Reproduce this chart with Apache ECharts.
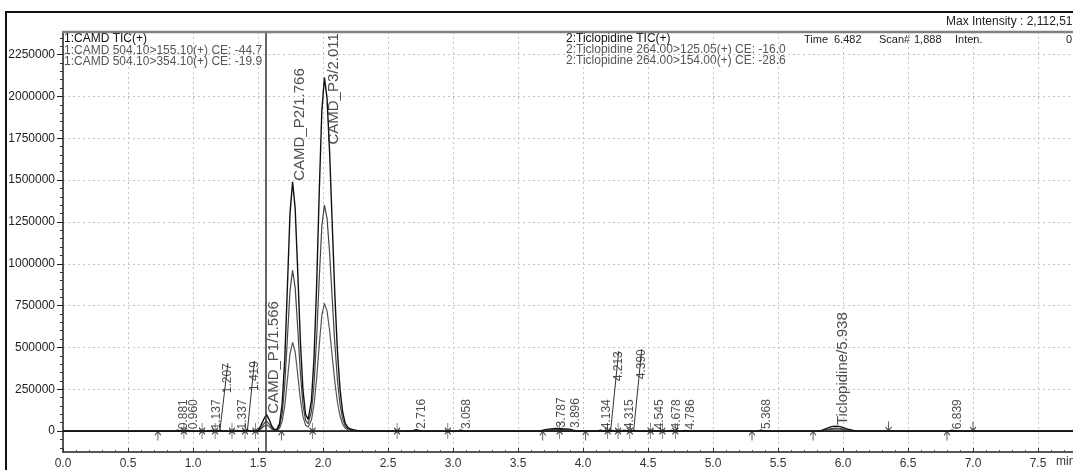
<!DOCTYPE html>
<html>
<head>
<meta charset="utf-8">
<script src="https://cdn.jsdelivr.net/npm/echarts@6/dist/echarts.min.js"></script>
<style>
  html, body { margin: 0; padding: 0; background: #fff; }
  #chart { width: 1073px; height: 470px; }
</style>
</head>
<body>
<div id="chart"></div>
<script>
// ---- CAMD channel traces (time in min, intensity in counts) ----
const camdTime = [0, 0.86, 0.881, 0.91, 0.94, 0.960, 0.98, 1.12, 1.137, 1.16, 1.19, 1.207, 1.23, 1.32, 1.337, 1.36, 1.40, 1.419, 1.44, 1.50,
  1.52, 1.546, 1.566, 1.586, 1.606, 1.626, 1.646, 1.666, 1.686, 1.706, 1.726, 1.746, 1.766, 1.786, 1.806, 1.826, 1.846, 1.866, 1.886,
  1.911, 1.931, 1.951, 1.971, 1.991, 2.011, 2.031, 2.051, 2.071, 2.091, 2.111, 2.131, 2.151, 2.171, 2.191, 2.211, 2.231, 2.26, 2.30, 7.90];
const camdTic = [0, 0, 5000, 0, 0, 5000, 0, 0, 4000, 0, 0, 5000, 0, 0, 4000, 0, 0, 6000, 0, 0,
  29400, 73500, 98000, 68600, 29400, 9500, 10100, 46600, 162400, 428400, 856800, 1297800, 1490000, 1330600, 946200, 537200, 242900, 99400, 69700,
  182600, 435800, 868300, 1423800, 1913900, 2112500, 1990000, 1664700, 1237900, 815400, 477400, 249300, 114100, 46500, 22000, 12500, 7800, 3900, 0, 0];
const camd155 = [0, 0, 3000, 0, 0, 3000, 0, 0, 2500, 0, 0, 3000, 0, 0, 2500, 0, 0, 3500, 0, 0,
  18000, 45000, 60000, 42000, 18000, 5900, 6500, 30000, 104600, 276000, 552000, 836200, 960000, 857300, 609600, 346100, 156500, 64000, 44700,
  116700, 278500, 554900, 909900, 1223100, 1350000, 1271700, 1063800, 791100, 521100, 305100, 159300, 72900, 29700, 14000, 8000, 5000, 2500, 0, 0];
const camd354 = [0, 0, 2000, 0, 0, 2000, 0, 0, 1500, 0, 0, 2000, 0, 0, 1500, 0, 0, 2500, 0, 0,
  11400, 28500, 38000, 26600, 11400, 3600, 3600, 16600, 57800, 152400, 304800, 461600, 530000, 473300, 336600, 191100, 86400, 35400, 25000,
  65900, 157300, 313400, 513900, 690800, 762500, 718300, 600900, 446800, 294300, 172300, 90000, 41200, 16800, 8000, 4500, 2800, 1400, 0, 0];

// ---- Ticlopidine channel traces ----
const ticloTime = [0, 2.68, 2.716, 2.76, 3.03, 3.058, 3.09, 3.66, 3.72, 3.787, 3.84, 3.896, 3.95, 4.11, 4.134, 4.16, 4.19, 4.213, 4.24,
  4.29, 4.315, 4.34, 4.37, 4.390, 4.42, 4.52, 4.545, 4.57, 4.65, 4.678, 4.70, 4.76, 4.786, 4.81, 5.34, 5.368, 5.40,
  5.80, 5.84, 5.88, 5.91, 5.938, 5.97, 6.00, 6.04, 6.08, 6.12, 6.81, 6.839, 6.87, 7.90];
const ticloTic = [0, 0, 8000, 0, 0, 6000, 0, 0, 10000, 16000, 14000, 12000, 0, 0, 5000, 0, 0, 5000, 0,
  0, 5000, 0, 0, 5000, 0, 0, 4000, 0, 0, 4000, 0, 0, 4000, 0, 0, 6000, 0,
  0, 6000, 18000, 26000, 30000, 28000, 22000, 11000, 4000, 0, 0, 5000, 0, 0];
const ticlo125 = [0, 0, 5000, 0, 0, 4000, 0, 0, 6000, 10000, 9000, 7000, 0, 0, 3000, 0, 0, 3000, 0,
  0, 3000, 0, 0, 3000, 0, 0, 2500, 0, 0, 2500, 0, 0, 2500, 0, 0, 4000, 0,
  0, 3600, 10800, 15600, 18000, 16800, 13200, 6600, 2400, 0, 0, 3000, 0, 0];
const ticlo154 = [0, 0, 3000, 0, 0, 2000, 0, 0, 4000, 6000, 5000, 5000, 0, 0, 2000, 0, 0, 2000, 0,
  0, 2000, 0, 0, 2000, 0, 0, 1500, 0, 0, 1500, 0, 0, 1500, 0, 0, 2000, 0,
  0, 2400, 7200, 10400, 12000, 11200, 8800, 4400, 1600, 0, 0, 2000, 0, 0];

// ---- detected peaks: retention time, label, apex intensity ----
const peakTime = [0.881, 0.960, 1.137, 1.207, 1.337, 1.419, 1.566, 1.766, 2.011, 2.716, 3.058, 3.787, 3.896,
  4.134, 4.213, 4.315, 4.390, 4.545, 4.678, 4.786, 5.368, 5.938, 6.839];
const peakName = ['0.881', '0.960', '1.137', '1.207', '1.337', '1.419', 'CAMD_P1/1.566', 'CAMD_P2/1.766', 'CAMD_P3/2.011',
  '2.716', '3.058', '3.787', '3.896', '4.134', '4.213', '4.315', '4.390', '4.545', '4.678', '4.786', '5.368',
  'Ticlopidine/5.938', '6.839'];
const peakApex = [5000, 5000, 4000, 5000, 4000, 6000, 98000, 1490000, 2112500, 8000, 6000, 16000, 12000,
  5000, 5000, 5000, 5000, 4000, 4000, 4000, 6000, 30000, 5000];

// ---- integration start / end marks ----
const markTime = [0.73, 0.93, 1.07, 1.17, 1.30, 1.40, 1.48, 1.68, 1.92, 2.57, 2.96, 3.69, 3.82, 4.02, 4.19, 4.27,
  4.36, 4.52, 4.61, 4.71, 5.30, 5.77, 6.35, 6.80, 7.00];
const markKind = ['up', 'both', 'both', 'both', 'both', 'both', 'both', 'up', 'both', 'both', 'both', 'up', 'both', 'up', 'both', 'both',
  'both', 'both', 'both', 'both', 'up', 'up', 'down', 'up', 'down'];

// ---- axis ticks ----
const yTicks = [0, 250000, 500000, 750000, 1000000, 1250000, 1500000, 1750000, 2000000, 2250000];
const yMinorTicks = [-100000, -50000, 50000, 100000, 150000, 200000, 300000, 350000, 400000, 450000, 550000, 600000, 650000, 700000,
  800000, 850000, 900000, 950000, 1050000, 1100000, 1150000, 1200000, 1300000, 1350000, 1400000, 1450000,
  1550000, 1600000, 1650000, 1700000, 1800000, 1850000, 1900000, 1950000, 2050000, 2100000, 2150000, 2200000, 2300000, 2350000];
const segmentTime = 1.56;

const FONT = '"Liberation Sans", Arial, sans-serif';

function pairs(t, v) { return t.map((x, i) => [x, v[i]]); }

// Screen-space shifts for crowded peak labels (x right, y down, in px).
// Raised labels get a leader line back to their peak.
const labelShift = {
  '1.207': { x: 2, y: -36, line: true },
  '1.419': { x: 1, y: -38, line: true },
  '4.213': { x: 2, y: -48, line: true },
  '4.390': { x: 2, y: -50, line: true },
  'CAMD_P3/2.011': { x: 2, y: 68, line: false }
};

const markSymbols = {
  up:   { symbol: 'path://M4,0 L4,10 M0,4 L4,0 L8,4', size: [6, 9], offset: [0, 5] },
  down: { symbol: 'path://M4,0 L4,10 M0,6 L4,10 L8,6', size: [6, 9], offset: [0, -5] },
  both: { symbol: 'path://M4,0 L4,20 M0,6 L4,10 L8,6 M0,14 L4,10 L8,14', size: [6, 16], offset: [0, 0] }
};

const peakData = peakTime.map((t, i) => {
  const named = peakName[i].indexOf('/') >= 0;
  const sh = labelShift[peakName[i]];
  return {
    name: peakName[i],
    value: [t, peakApex[i]],
    label: { fontSize: named ? 15 : 12 },
    labelLine: { show: !!(sh && sh.line) }
  };
});

const markData = markTime.map((t, i) => {
  const s = markSymbols[markKind[i]];
  return { value: [t, 0], symbol: s.symbol, symbolSize: s.size, symbolOffset: s.offset };
});

function trace(name, t, v, color, width, z) {
  return {
    name: name, type: 'line', data: pairs(t, v), showSymbol: false, silent: true,
    lineStyle: { color: color, width: width }, z: z
  };
}

const chart = echarts.init(document.getElementById('chart'), null, { renderer: 'canvas' });

const small = '11px ' + FONT;
const norm = '12px ' + FONT;

const option = {
  animation: false,
  backgroundColor: '#fff',
  textStyle: { fontFamily: FONT },
  grid: { left: 63, right: -30, top: 32, bottom: 18, containLabel: false, outerBoundsMode: 'none' },
  xAxis: {
    type: 'value', min: 0, max: 8, interval: 0.5,
    axisLine: { show: true, onZero: false, lineStyle: { color: '#222', width: 1.5 } },
    axisTick: { show: true, inside: true, length: 4, lineStyle: { color: '#333' } },
    minorTick: { show: true, splitNumber: 5, length: 2, lineStyle: { color: '#555' } },
    axisLabel: { fontSize: 12, color: '#333', margin: 6, showMaxLabel: false, formatter: v => v.toFixed(1) },
    splitLine: { show: true, lineStyle: { type: [2, 3], color: '#c4c4c4', width: 1 } }
  },
  yAxis: [{
    type: 'value', min: -125000, max: 2385000,
    axisLine: { show: true, lineStyle: { color: '#222', width: 1.5 } },
    axisTick: { show: true, length: 6, customValues: yTicks, lineStyle: { color: '#222' } },
    axisLabel: { fontSize: 12, color: '#222', margin: 8, customValues: yTicks, formatter: v => String(v) },
    splitLine: { show: true, lineStyle: { type: [2, 3], color: '#c4c4c4', width: 1 } }
  }, {
    type: 'value', min: -125000, max: 2385000, position: 'left',
    axisLine: { show: false },
    axisTick: { show: true, length: 3, customValues: yMinorTicks, lineStyle: { color: '#333' } },
    axisLabel: { show: false },
    splitLine: { show: false }
  }],
  series: [
    trace('2:Ticlopidine 264.00>154.00(+)', ticloTime, ticlo154, '#555', 1.2, 2),
    trace('2:Ticlopidine 264.00>125.05(+)', ticloTime, ticlo125, '#444', 1.2, 2),
    trace('2:Ticlopidine TIC(+)', ticloTime, ticloTic, '#1a1a1a', 1.3, 3),
    trace('1:CAMD 504.10>354.10(+)', camdTime, camd354, '#555', 1.2, 2),
    trace('1:CAMD 504.10>155.10(+)', camdTime, camd155, '#444', 1.2, 2),
    Object.assign(trace('1:CAMD TIC(+)', camdTime, camdTic, '#111', 1.4, 3), {
      markLine: {
        silent: true, symbol: 'none', label: { show: false },
        lineStyle: { color: '#333', width: 1.5, type: 'solid' },
        data: [{ xAxis: segmentTime }]
      }
    }),
    {
      name: 'marks', type: 'scatter', silent: true, z: 4,
      data: markData,
      itemStyle: { color: 'rgba(0,0,0,0)', borderColor: '#222', borderWidth: 1.1 }
    },
    {
      name: 'peaks', type: 'scatter', silent: true, z: 5,
      symbolSize: 0,
      data: peakData,
      label: {
        show: true, formatter: '{b}', rotate: 90, position: 'top', distance: 1,
        align: 'left', verticalAlign: 'top', color: '#222', fontFamily: FONT
      },
      labelLine: { show: false, lineStyle: { color: '#333', width: 1 } },
      // the label is rotated, so its layout shift runs in the rotated frame
      labelLayout: p => {
        const sh = labelShift[peakName[p.dataIndex]];
        return sh ? { dx: -sh.y, dy: sh.x } : {};
      }
    }
  ],
  graphic: [
    { type: 'rect', silent: true, shape: { x: 6, y: 12, width: 1100, height: 500 },
      style: { fill: 'none', stroke: '#111', lineWidth: 2 }, z: 10 },
    { type: 'line', silent: true, shape: { x1: 62, y1: 32, x2: 1073, y2: 32 },
      style: { stroke: '#808080', lineWidth: 2.5 }, z: 10 },
    { type: 'text', left: 64, top: 33, style: { text: '1:CAMD TIC(+)', font: norm, fill: '#111' } },
    { type: 'text', left: 64, top: 45, style: { text: '1:CAMD 504.10>155.10(+) CE: -44.7', font: norm, fill: '#555' } },
    { type: 'text', left: 64, top: 56, style: { text: '1:CAMD 504.10>354.10(+) CE: -19.9', font: norm, fill: '#555' } },
    { type: 'text', left: 566, top: 33, style: { text: '2:Ticlopidine TIC(+)', font: norm, fill: '#111' } },
    { type: 'text', left: 566, top: 44, style: { text: '2:Ticlopidine 264.00>125.05(+) CE: -16.0', font: norm, fill: '#555' } },
    { type: 'text', left: 566, top: 55, style: { text: '2:Ticlopidine 264.00>154.00(+) CE: -28.6', font: norm, fill: '#555' } },
    { type: 'text', left: 804, top: 34, style: { text: 'Time', font: small, fill: '#222' } },
    { type: 'text', left: 834, top: 34, style: { text: '6.482', font: small, fill: '#222' } },
    { type: 'text', left: 879, top: 34, style: { text: 'Scan#', font: small, fill: '#222' } },
    { type: 'text', left: 914, top: 34, style: { text: '1,888', font: small, fill: '#222' } },
    { type: 'text', left: 955, top: 34, style: { text: 'Inten.', font: small, fill: '#222' } },
    { type: 'text', left: 1066, top: 34, style: { text: '0', font: small, fill: '#222' } },
    { type: 'text', left: 946, top: 16, style: { text: 'Max Intensity : 2,112,51', font: norm, fill: '#222' } },
    { type: 'text', left: 1056, top: 456, style: { text: 'min', font: norm, fill: '#333' } }
  ]
};

chart.setOption(option);
</script>
</body>
</html>
